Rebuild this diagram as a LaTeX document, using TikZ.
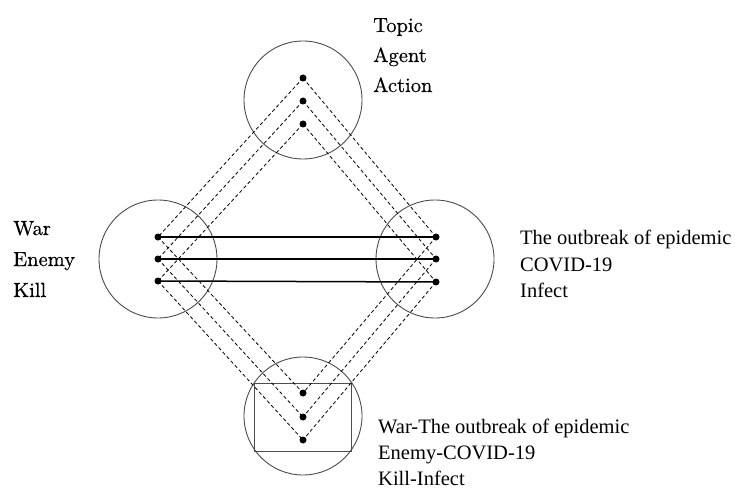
\documentclass[tikz,border=0pt]{standalone}
\usepackage{fontspec}
\newfontfamily\tms{Liberation Serif}
\newfontfamily\cmten[FakeBold=0.5]{lmroman10-regular.otf}
\begin{document}
\begin{tikzpicture}[x=1pt,y=-1pt,
  ring/.style={circle,draw=black!70,line width=0.9pt,minimum size=118pt,inner sep=0pt},
  dot/.style={circle,fill=black,inner sep=0pt,minimum size=7pt},
  link/.style={line width=1.5pt},
  trace/.style={line width=0.8pt,dash pattern=on 3.5pt off 2.5pt},
  lbl/.style={anchor=base west,inner sep=0pt,font=\cmten\fontsize{20.5}{24}\selectfont},
  tlbl/.style={anchor=base west,inner sep=0pt,font=\tms\fontsize{20.5}{24}\selectfont}]
\useasboundingbox (0,0) rectangle (735,489);

% four domain circles
\node[ring] (ct) at (303,100) {};
\node[ring] (cl) at (158,259) {};
\node[ring] (cr) at (435,259) {};
\node[ring] (cb) at (303,416) {};
\draw[black!70,line width=0.9pt] (254,383) rectangle (351,451);

% element dots
\foreach \i/\y in {1/78,2/101,3/124} \node[dot] (t\i) at (303,\y) {};
\foreach \i/\y in {1/237,2/259,3/281} \node[dot] (l\i) at (158,\y) {};
\foreach \i/\y in {1/237,2/259,3/282} \node[dot] (r\i) at (436,\y) {};
\foreach \i/\y in {1/393,2/417,3/440} \node[dot] (b\i) at (303,\y) {};

% solid correspondences between the two input spaces
\foreach \i in {1,2,3} \draw[link] (l\i.center) -- (r\i.center);

% dashed projections through the generic and blended spaces
\foreach \i in {1,2,3} {
  \draw[trace] (t\i.center) -- (l\i.center);
  \draw[trace] (t\i.center) -- (r\i.center);
  \draw[trace] (l\i.center) -- (b\i.center);
  \draw[trace] (r\i.center) -- (b\i.center);
}

% labels
\node[lbl] (tp1) at (373,32) {Topic};
\node[lbl] (tp2) at (373,62) {Agent};
\node[lbl] (tp3) at (373,92) {Action};
\node[lbl] (lf1) at (13,235) {War};
\node[lbl] (lf2) at (13,266) {Enemy};
\node[lbl] (lf3) at (13,297) {Kill};
\node[tlbl] (rt1) at (520,244) {The outbreak of epidemic};
\node[tlbl] (rt2) at (520,271) {COVID-19};
\node[tlbl] (rt3) at (520,297) {Infect};
\node[tlbl] (bt1) at (378,433) {War-The outbreak of epidemic};
\node[tlbl] (bt2) at (378,459) {Enemy-COVID-19};
\node[tlbl] (bt3) at (378,485) {Kill-Infect};
\end{tikzpicture}
\end{document}
